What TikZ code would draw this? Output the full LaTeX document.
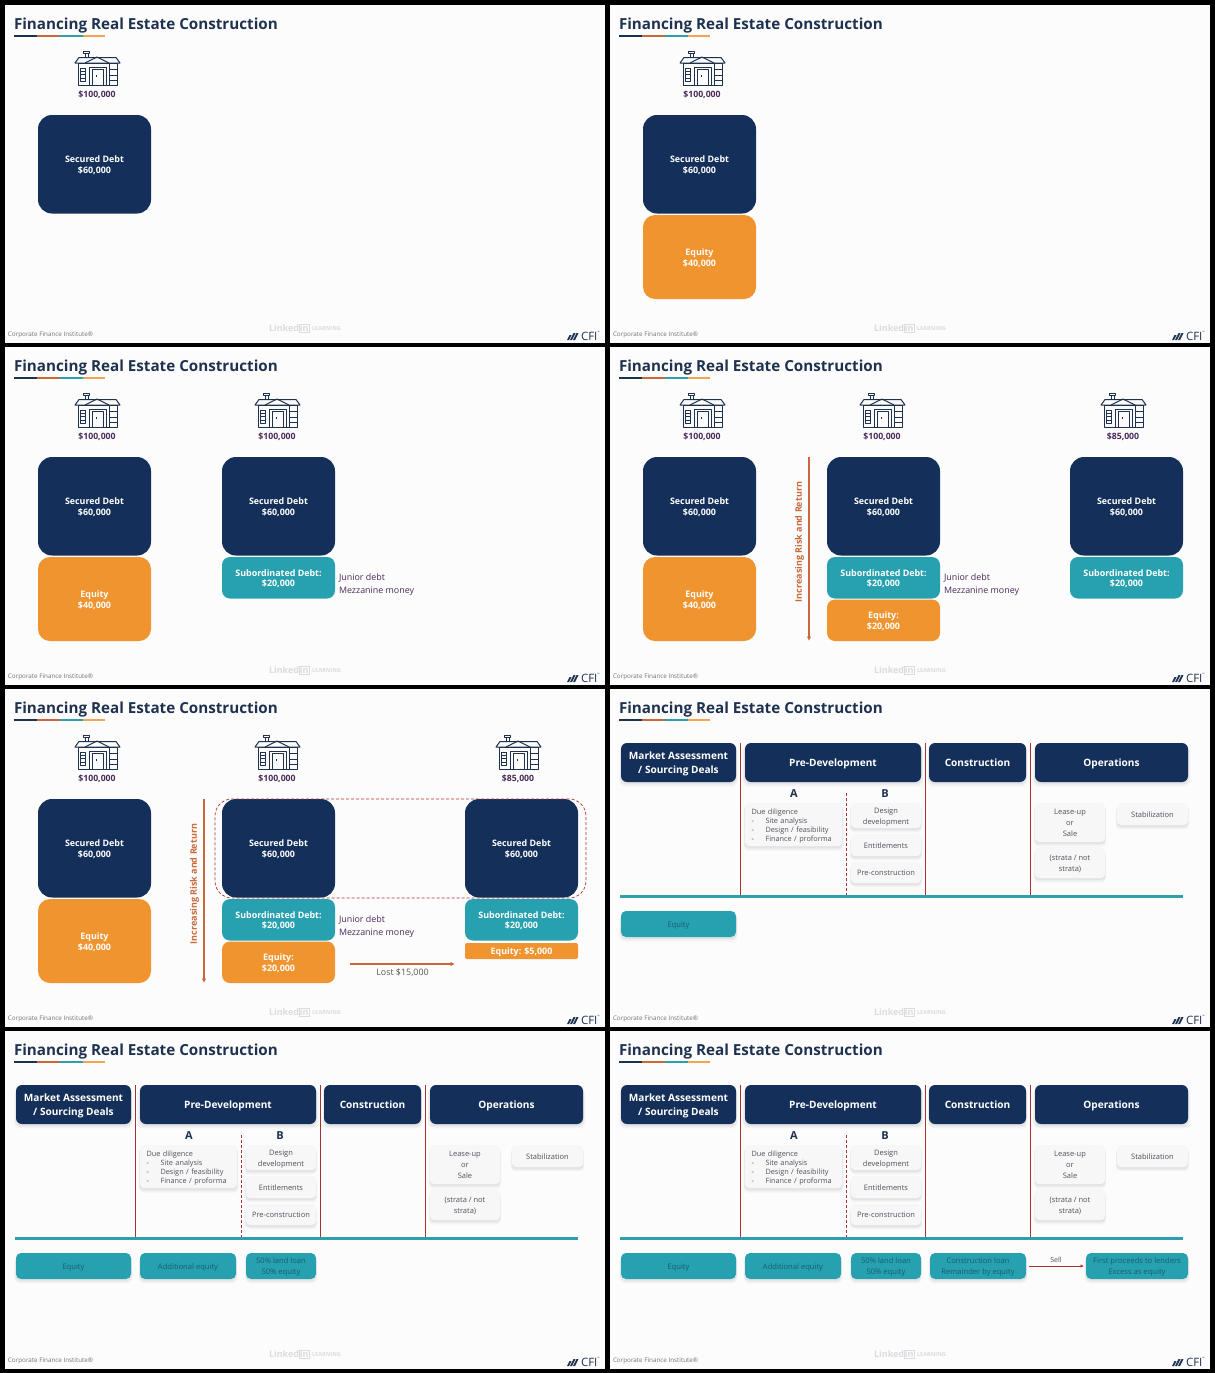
\documentclass[tikz,border=0pt]{standalone}
\usepackage{fontspec}
\setmainfont{Open Sans}
\usetikzlibrary{shadows,arrows.meta}
\definecolor{navy}{HTML}{14305A}
\definecolor{tealb}{HTML}{27A0B0}
\definecolor{orangeb}{HTML}{F09430}
\definecolor{titlec}{HTML}{1E3250}
\definecolor{arrowo}{HTML}{C9683A}
\definecolor{redl}{HTML}{A83232}
\definecolor{purpl}{HTML}{4A2C5A}
\definecolor{cardt}{HTML}{50505C}
\definecolor{tealt}{HTML}{175F70}
\definecolor{barteal}{HTML}{2F9EAD}
\definecolor{wm}{HTML}{DCDCE0}
\newcommand\fsz[2]{\fontsize{#1}{#2}\selectfont}
\tikzset{
  x=1pt,y=-1pt,
  base/.style={inner sep=0pt,outer sep=0pt,align=center},
  navybig/.style={base,fill=navy,rounded corners=14pt,text=white,font=\fsz{8.9}{10.8}\bfseries},
  tealmid/.style={base,fill=tealb,rounded corners=8pt,text=white,font=\fsz{8.9}{10.8}\bfseries},
  orbig/.style={base,fill=orangeb,rounded corners=12pt,text=white,font=\fsz{8.9}{10.8}\bfseries},
  ormid/.style={base,fill=orangeb,rounded corners=8pt,text=white,font=\fsz{8.9}{10.8}\bfseries},
  orthin/.style={base,fill=orangeb,rounded corners=2pt,text=white,font=\fsz{8.9}{10.8}\bfseries},
  softshadow/.style={
    drop shadow={shadow xshift=0pt,shadow yshift=-4pt,shadow scale=1.03,fill=black,opacity=.025},
    drop shadow={shadow xshift=0pt,shadow yshift=-3pt,shadow scale=1.02,fill=black,opacity=.03},
    drop shadow={shadow xshift=0pt,shadow yshift=-2pt,shadow scale=1.01,fill=black,opacity=.04}},
  header/.style={base,fill=navy,rounded corners=6pt,text=white,font=\fsz{10.1}{14.5}\bfseries,softshadow},
  card/.style={base,fill=black!3,rounded corners=4pt,text=cardt,font=\fsz{7.5}{11},softshadow},
  cardleft/.style={card,align=left,text width=84pt,font=\fsz{7.3}{9}},
  tealcard/.style={base,fill=tealb,rounded corners=5pt,text=tealt,font=\fsz{7.6}{10.8},softshadow},
  sidenote/.style={inner sep=0pt,outer sep=0pt,text=purpl,font=\fsz{8.9}{10},anchor=west},
  value/.style={inner sep=0pt,outer sep=0pt,text=purpl,font=\fsz{8.7}{10}\bfseries},
  colletter/.style={inner sep=0pt,outer sep=0pt,text=titlec,font=\fsz{11}{12}\bfseries},
  redline/.style={draw=redl,line width=.8pt},
  reddash/.style={draw=redl,line width=.8pt,dash pattern=on 3pt off 2pt},
  bigarrow/.style={draw=arrowo,line width=1.4pt,-{Latex[length=4.5pt,width=4.5pt]}},
  thinarrow/.style={draw=redl,line width=.8pt,-{Latex[length=3.5pt,width=3.5pt]}},
  villa/.pic={
    \begin{scope}[draw=titlec,line width=1pt,line join=round]
      \draw (-13.5,1) rectangle (-7.5,3.5);
      \draw (-12,3.5) -- (-12,7.5) (-9,3.5) -- (-9,7.5);
      \draw (-22,13) -- (-18,7.5) -- (19,7.5) -- (23,13) -- cycle;
      \draw (-12,13) -- (0,7) -- (12,13);
      \draw (-19,13) rectangle (20.5,35.5);
      \draw (-8,17) rectangle (9,35.5);
      \draw (-5,19) rectangle (6,35.5);
      \fill[titlec] (-1.2,25.2) rectangle (.2,26.6);
      \draw (-16.5,18) rectangle (-12,31);
      \draw (-16.5,21) -- (-12,21) (-16.5,24.5) -- (-12,24.5) (-16.5,28) -- (-12,28);
      \draw (12,19.5) -- (20.5,19.5) (12,25) -- (20.5,25) (12,30) -- (20.5,30);
      \draw (12,13) -- (12,35.5);
    \end{scope}
  }
}
\newcommand\bx[7]{%
  \pgfmathsetmacro\bw{#5-#3}\pgfmathsetmacro\bh{#6-#4}%
  \pgfmathsetmacro\bcx{(#3+#5)/2}\pgfmathsetmacro\bcy{(#4+#6)/2}%
  \node[#2,minimum width=\bw pt,minimum height=\bh pt] (\P#1) at (\bcx,\bcy) {\rule{0pt}{\dimexpr.73em+3pt\relax}#7\vphantom{Ag}};}
\newcommand\houseval[3]{\pic at (#1,50) {villa};\node[value] (\P val#3) at (#1,94.5) {#2};}
\newcommand\secured[3]{\bx{sec#1}{navybig}{#2}{115}{#3}{213.5}{Secured Debt\\\$60,000}}
\newcommand\subdebt[3]{\bx{sub#1}{tealmid}{#2}{215}{#3}{256.5}{Subordinated Debt:\\\$20,000}}
\newcommand\juniornote{\node[sidenote] (\P jd) at (339,235.5) {Junior debt};\node[sidenote] (\P mm) at (339,249) {Mezzanine money};}
\newcommand\riskarrow{%
  \coordinate (\P at) at (204,115);\coordinate (\P ab) at (204,299);
  \draw[bigarrow] (\P at) -- node[pos=.462,rotate=90,anchor=south,yshift=5pt,inner sep=0pt,outer sep=0pt,text=arrowo,font=\fsz{9}{10}\bfseries] (\P arl) {Increasing Risk and Return} (\P ab);}
\newcommand\panel[4]{%
  \begin{scope}[shift={(#2,#3)}]\def\P{#1}%
    \fill[white!99!black] (5,5) rectangle (605,343);
    \node[inner sep=0pt,outer sep=0pt,anchor=base west,text=titlec,font=\fsz{15.2}{18}\bfseries] (\P title) at (14,29) {Financing Real Estate Construction};
    \fill[titlec] (14,34.5) rectangle (37,36.7);
    \fill[arrowo] (37,34.5) rectangle (60,36.7);
    \fill[barteal] (60,34.5) rectangle (83,36.7);
    \fill[orangeb!85!white] (83,34.5) rectangle (105,36.7);
    \node[inner sep=0pt,outer sep=0pt,anchor=west,text=black!55,font=\fsz{6.3}{7}] (\P corp) at (8,334.5) {Corporate Finance Institute®};
    \node[inner sep=0pt,outer sep=0pt,anchor=west,text=wm,font=\fsz{9}{9}\bfseries] (\P li1) at (269,328) {Linked};
    \node[inner sep=.6pt,outer sep=0pt,anchor=west,draw=wm,text=wm,font=\fsz{9}{9}\bfseries] (\P li2) at (\P li1.east) {in};
    \node[inner sep=0pt,outer sep=0pt,anchor=west,text=wm,font=\fsz{5.6}{6}\bfseries] (\P li3) at (312,328) {LEARNING};
    \fill[titlec] (567,340) -- (569.5,335) -- (571.5,335) -- (569,340) -- cycle
      (570,340) -- (573.5,333) -- (575.5,333) -- (572,340) -- cycle
      (573,340) -- (576.5,333) -- (578.5,333) -- (575,340) -- cycle;
    \node[inner sep=0pt,outer sep=0pt,anchor=west,text=titlec,font=\fsz{11.5}{12}] (\P cfi) at (581,336) {CFI};
    \node[inner sep=0pt,outer sep=0pt,anchor=west,text=titlec,font=\fsz{3}{4}] (\P tm) at (\P cfi.east) [yshift=3.5pt] {™};
    #4%
  \end{scope}}
\newcommand\process{%
  \coordinate (\P ra) at (135.5,59);\coordinate (\P rb) at (135.5,211);
  \coordinate (\P rc) at (320.5,59);\coordinate (\P rd) at (320.5,211);
  \coordinate (\P re) at (425.5,59);\coordinate (\P rf) at (425.5,211);
  \coordinate (\P rg) at (241,109);\coordinate (\P rh) at (241,211);
  \coordinate (\P tl) at (15,212.5);\coordinate (\P tr) at (578,212.5);
  \bx{hm}{header}{16}{59}{131}{98}{Market Assessment\\/ Sourcing Deals}
  \bx{hp}{header}{140}{59}{316}{98}{Pre-Development}
  \bx{hc}{header}{324}{59}{421}{98}{Construction}
  \bx{ho}{header}{430}{59}{583}{98}{Operations}
  \draw[redline] (\P ra) -- (\P rb);
  \draw[redline] (\P rc) -- (\P rd);
  \draw[redline] (\P re) -- (\P rf);
  \draw[reddash] (\P rg) -- (\P rh);
  \draw[draw=barteal,line width=3.4pt] (\P tl) -- (\P tr);
  \node[colletter] (\P la) at (189,110) {A};
  \node[colletter] (\P lb) at (280,110) {B};
  \bx{ca}{cardleft}{140}{119}{237}{162}{Due diligence\\\makebox[14pt][l]{-}Site analysis\\\makebox[14pt][l]{-}Design / feasibility\\\makebox[14pt][l]{-}Finance / proforma}
  \bx{cb}{card}{246}{119}{316}{144}{Design\\development}
  \bx{cc}{card}{246}{150}{316}{172}{Entitlements}
  \bx{cd}{card}{246}{178}{316}{199}{Pre-construction}
  \bx{ce}{card}{430}{119}{500}{158}{Lease-up\\or\\Sale}
  \bx{cf}{card}{430}{163}{500}{194}{(strata / not\\strata)}
  \bx{cg}{card}{512}{119}{583}{141}{Stabilization}
  \bx{tq}{tealcard}{16}{227}{131}{253}{Equity}
}
\begin{document}
\begin{tikzpicture}
\useasboundingbox (0,0) rectangle (1215,1373);
\fill[black] (0,0) rectangle (1215,1373);
\panel{pa}{0}{0}{%
  \houseval{97}{\$100,000}{a}
  \secured{a}{38}{151}}
\panel{pb}{605}{0}{%
  \houseval{97}{\$100,000}{a}
  \secured{a}{38}{151}
  \bx{eqa}{orbig}{38}{215}{151}{299}{Equity\\\$40,000}}
\panel{pc}{0}{342}{%
  \houseval{97}{\$100,000}{a}
  \houseval{277}{\$100,000}{b}
  \secured{a}{38}{151}
  \bx{eqa}{orbig}{38}{215}{151}{299}{Equity\\\$40,000}
  \secured{b}{222}{335}
  \subdebt{b}{222}{335}
  \juniornote}
\panel{pd}{605}{342}{%
  \houseval{97}{\$100,000}{a}
  \houseval{277}{\$100,000}{b}
  \houseval{518}{\$85,000}{c}
  \secured{a}{38}{151}
  \bx{eqa}{orbig}{38}{215}{151}{299}{Equity\\\$40,000}
  \riskarrow
  \secured{b}{222}{335}
  \subdebt{b}{222}{335}
  \bx{eqb}{ormid}{222}{257.5}{335}{299}{Equity:\\\$20,000}
  \juniornote
  \secured{c}{465}{578}
  \subdebt{c}{465}{578}}
\panel{pe}{0}{684}{%
  \houseval{97}{\$100,000}{a}
  \houseval{277}{\$100,000}{b}
  \houseval{518}{\$85,000}{c}
  \secured{a}{38}{151}
  \bx{eqa}{orbig}{38}{215}{151}{299}{Equity\\\$40,000}
  \riskarrow
  \secured{b}{222}{335}
  \subdebt{b}{222}{335}
  \bx{eqb}{ormid}{222}{257.5}{335}{299}{Equity:\\\$20,000}
  \juniornote
  \secured{c}{465}{578}
  \subdebt{c}{465}{578}
  \bx{eqc}{orthin}{465}{259}{578}{275}{Equity: \$5,000}
  \node[draw=redl,line width=.7pt,dash pattern=on 3pt off 2pt,rounded corners=17pt,minimum width=371pt,minimum height=99pt,inner sep=0pt,outer sep=0pt] (\P dbox) at (400.5,164.5) {};
  \coordinate (\P la) at (350,280);\coordinate (\P lb) at (455,280);
  \draw[bigarrow] (\P la) -- node[below=4.5pt,inner sep=0pt,text=black!65,font=\fsz{8.9}{10}] (\P ll) {Lost \$15,000} (\P lb);}
\panel{pf}{605}{684}{\process}
\panel{pg}{0}{1026}{%
  \process
  \bx{tw}{tealcard}{140}{227}{236}{253}{Additional equity}
  \bx{tx}{tealcard}{246}{227}{316}{253}{50\% land loan\\50\% equity}}
\panel{ph}{605}{1026}{%
  \process
  \bx{tw}{tealcard}{140}{227}{236}{253}{Additional equity}
  \bx{tx}{tealcard}{246}{227}{316}{253}{50\% land loan\\50\% equity}
  \bx{ty}{tealcard}{325}{227}{421}{253}{Construction loan\\Remainder by equity}
  \bx{tz}{tealcard}{481}{227}{583}{253}{First proceeds to lenders\\Excess as equity}
  \draw[thinarrow,shorten <=3pt,shorten >=2pt] (\P ty) -- node[above=3.5pt,inner sep=0pt,text=cardt,font=\fsz{7}{8}] (\P sl) {Sell} (\P tz);}
\end{tikzpicture}
\end{document}
